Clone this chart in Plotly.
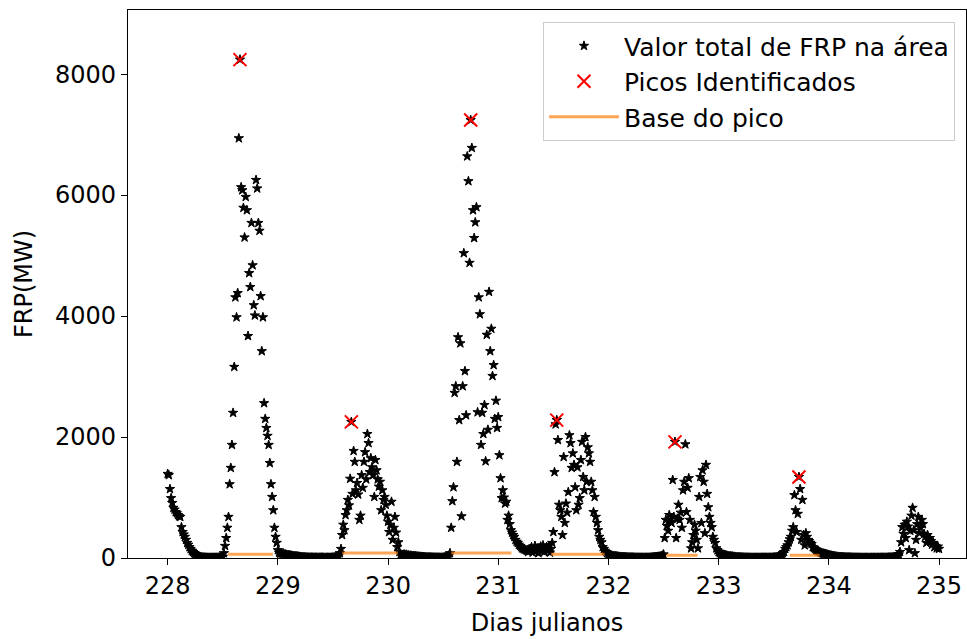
import plotly.graph_objects as go

# ---- data: FRP total (MW) at 15-minute steps, index k -> day 228 + k/96 ----
# each segment: (start index, values)
seg_228_decay = (0, [1390, 1370, 1140, 990, 910, 830, 800, 760, 740, 710, 690, 680, 510, 430, 390,
                     350, 300, 250, 220, 180, 150, 120, 100, 80, 70, 60, 40, 30, 20, 15])
seg_228_low = (30, [10, 8, 7, 6, 5, 5, 4, 5, 4, 4, 5, 4, 5, 6, 5, 8, 10, 15])
seg_peak1 = (48, [20, 80, 200, 330, 500, 680, 1220, 1490, 1870, 2400, 3160, 4310, 3980, 4380, 6940, 8240,
                  6130, 6080, 5790, 5300, 5970, 5750, 3670, 4710, 4480, 5540, 4840, 4180, 4010, 6250, 6110,
                  5540, 5410, 4330, 3420, 3980, 2560, 2300, 2150, 2020, 1870, 1570, 1220, 1010, 790, 500,
                  350, 250])
seg_tail1 = (96, [130, 90, 70, 80, 60, 75, 55, 60, 50, 45, 50, 40, 38, 35, 32, 30, 28, 25, 22, 20,
                  18, 16, 14, 12, 10, 8, 7, 9, 6, 8, 7, 6, 5, 7, 6, 5, 6, 5, 7, 6,
                  5, 4, 5, 6, 5, 4, 5, 6, 8, 10, 12, 15, 20, 40, 80])
seg_peak2 = (151, [150, 380, 550, 460, 710, 790, 960, 870, 1310, 2250, 1060, 1770, 1590, 1120, 1240, 1050,
                   630, 700, 1370, 1160, 1590, 1750, 1300, 2050, 1900, 1420, 1650, 1500, 1370, 1010, 1620,
                   1450, 1300, 1180, 1260, 790, 1120, 960, 1010, 880, 700, 600, 430, 550, 930, 300, 500,
                   680, 420, 180, 260, 100, 60, 40])
seg_tail2 = (205, [50, 60, 45, 55, 40, 45, 35, 40, 30, 35, 28, 30, 25, 25, 22, 20, 20, 18, 15, 15,
                   12, 12, 10, 10, 10, 8, 8, 8, 7, 7, 6, 6, 6, 5, 5, 8, 10, 12, 15, 20, 40, 80])
seg_peak3 = (247, [500, 940, 1170, 2730, 2840, 1590, 3650, 2280, 3550, 690, 2840, 5040, 3090, 2360, 6640,
                   6230, 4880, 7240, 6780, 5750, 5290, 5550, 5800, 2410, 4310, 4030, 1870, 2400, 2050, 2530,
                   1600, 3690, 2120, 4400, 3420, 3790, 3010, 3190, 2300, 2600, 2150, 2330, 1700, 1320, 990,
                   1120, 1000, 900, 930, 630, 700, 560, 460, 420, 380, 350, 300, 270, 250, 220, 200, 180,
                   160, 150, 140, 130, 120])
seg_post3 = (314, [100, 150, 120, 180, 90, 130, 200, 110, 160, 80, 140, 190, 120, 210, 100, 150, 180])
seg_peak4 = (331, [120, 200, 90, 150, 250, 430, 1420, 2210, 2280, 1950, 880, 790, 680, 380, 1670, 580, 900,
                   750, 1090, 2030, 1900, 1490, 1730, 1540, 1170, 790, 1500, 880, 990, 1620, 1920, 1340,
                   1120, 2000, 1260, 1830, 1730, 1590, 1260, 1120, 760, 1010, 680, 580, 460, 350, 300, 260,
                   180, 150, 120, 100])
seg_tail4 = (383, [80, 60, 50, 45, 40, 35, 30, 30, 25, 25, 20, 20, 18, 16, 15, 14, 12, 12, 10, 10,
                   9, 8, 8, 7, 7, 6, 6, 6, 5, 5, 5, 6, 5, 5, 6, 5, 5, 6, 8, 10,
                   12, 15, 14, 18, 20, 22, 25, 30, 40, 60])
seg_peak5 = (433, [330, 630, 530, 450, 710, 600, 580, 1290, 680, 1920, 330, 650, 880, 630, 750, 500, 1120,
                   1260, 1880, 760, 1160, 1320, 630, 160, 260, 380, 550, 450, 300, 160, 1010, 1340, 580,
                   1450, 1260, 410, 1540, 1060, 840, 680, 580, 510, 350, 300, 250, 160, 130, 100, 80])
seg_tail5 = (482, [70, 60, 55, 50, 45, 40, 35, 30, 30, 25, 25, 20, 20, 15, 15, 12, 12, 10, 10, 8,
                   8, 7, 7, 6, 6, 5, 5, 5, 5, 5, 4, 5, 5, 4, 5, 5, 6, 5, 5, 6,
                   5, 5, 6, 6, 5, 6, 8, 10, 12, 15, 20, 30, 40, 60, 80])
seg_peak6 = (537, [100, 150, 180, 210, 260, 310, 350, 450, 510, 1040, 790, 430, 730, 1340, 1140, 300, 960,
                   380, 210, 410, 350, 300, 280, 250, 230, 180, 170, 150, 130, 120, 110, 100, 90, 80, 75,
                   70, 65, 60, 55, 50, 45, 40, 35])
seg_tail6 = (580, [30, 28, 25, 22, 20, 18, 16, 15, 14, 12, 12, 10, 10, 9, 8, 8, 7, 7, 6, 6,
                   6, 5, 5, 5, 5, 5, 4, 4, 5, 4, 5, 4, 4, 5, 4, 5, 5, 4, 5, 5,
                   4, 5, 5, 6, 5, 6, 5, 6, 8, 7, 8, 10, 12, 15, 18, 22])
seg_235 = (636, [30, 60, 100, 260, 510, 400, 550, 330, 600, 520, 130, 450, 700, 830, 460, 80, 300, 560,
                 680, 410, 500, 630, 560, 400, 350, 250, 380, 300, 330, 280, 220, 250, 180, 200, 160, 190,
                 150])

segments = [seg_228_decay, seg_228_low, seg_peak1, seg_tail1, seg_peak2, seg_tail2, seg_peak3,
            seg_post3, seg_peak4, seg_tail4, seg_peak5, seg_tail5, seg_peak6, seg_tail6, seg_235]

start_day = 228
steps_per_day = 96

# identified peaks (day, FRP)
peak_days = [228.656, 229.667, 230.750, 231.531, 232.604, 233.729]
peak_frp = [8240, 2250, 7240, 2280, 1920, 1340]

# peak bases: left day, right day, height (MW)
base_left = [228.547, 229.585, 230.574, 231.480, 232.525, 233.645]
base_right = [228.955, 230.090, 231.119, 231.965, 232.810, 233.917]
base_height = [60, 83, 83, 60, 45, 45]

x_ticks = [228, 229, 230, 231, 232, 233, 234, 235]
y_ticks = [0, 2000, 4000, 6000, 8000]

# ---- build ----
xs, ys = [], []
for k0, vals in segments:
    for i, v in enumerate(vals):
        xs.append(start_day + (k0 + i) / steps_per_day)
        ys.append(v)

bx, by = [], []
for l, r, h in zip(base_left, base_right, base_height):
    bx += [l, r, None]
    by += [h, h, None]

FONT = "DejaVu Sans"
FS = 24
fig = go.Figure()
fig.add_trace(go.Scatter(
    x=xs, y=ys, mode="markers", name="Valor total de FRP na área",
    marker=dict(symbol="star", size=7, color="black", line=dict(color="black", width=1))))
fig.add_trace(go.Scatter(
    x=peak_days, y=peak_frp, mode="markers", name="Picos Identificados",
    marker=dict(symbol="x-thin", size=13, color="red", line=dict(color="red", width=2))))
fig.add_trace(go.Scatter(
    x=bx, y=by, mode="lines", name="Base do pico",
    line=dict(color="rgba(255,127,14,0.7)", width=3)))

fig.update_layout(
    width=967, height=639,
    margin=dict(l=128, r=1, t=10, b=81),
    paper_bgcolor="white", plot_bgcolor="white",
    font=dict(family=FONT, size=FS, color="black"),
    showlegend=True,
    legend=dict(x=0.4952, y=0.978, xanchor="left", yanchor="top",
                bgcolor="rgba(255,255,255,0.8)", bordercolor="#cccccc", borderwidth=1,
                font=dict(family=FONT, size=25, color="black"),
                itemwidth=70),
)
fig.update_xaxes(
    range=[227.64, 235.245], tickvals=x_ticks, ticktext=[str(t) for t in x_ticks],
    showgrid=False, zeroline=False, showline=True, linecolor="black", linewidth=1.2,
    mirror=True, ticks="outside", ticklen=6, tickwidth=1.2, tickcolor="black",
    tickfont=dict(family=FONT, size=FS),
    title=dict(text="Dias julianos", font=dict(family=FONT, size=FS), standoff=15))
fig.update_yaxes(
    range=[0, 9060], tickvals=y_ticks, ticktext=[str(t) for t in y_ticks],
    showgrid=False, zeroline=False, showline=True, linecolor="black", linewidth=1.2,
    mirror=True, ticks="outside", ticklen=6, tickwidth=1.2, tickcolor="black",
    tickfont=dict(family=FONT, size=FS),
    title=dict(text="FRP(MW)", font=dict(family=FONT, size=FS), standoff=15))

fig.write_html("out.html")
